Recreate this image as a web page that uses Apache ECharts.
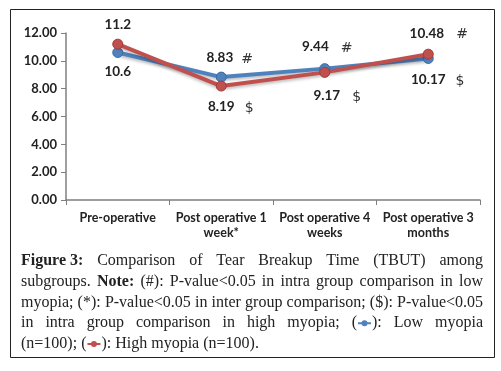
<!DOCTYPE html>
<html>
<head>
<meta charset="utf-8">
<script src="https://cdn.jsdelivr.net/npm/echarts@6/dist/echarts.min.js"></script>
<style>
  html, body { margin: 0; padding: 0; background: #fff; }
  #main { width: 501px; height: 371px; }
</style>
</head>
<body>
<div id="main"></div>
<script>
var categories = ['Pre-operative', 'Post operative 1\nweek*', 'Post operative 4\nweeks', 'Post operative 3\nmonths'];
var lowMyopia = [10.6, 8.83, 9.44, 10.17];
var highMyopia = [11.2, 8.19, 9.17, 10.48];
var lowMarks = ['', '#', '#', '$'];
var highMarks = ['', '$', '$', '#'];
var yTicks = { min: 0, max: 12, interval: 2 };

// caption, one entry per printed line; ** = bold, [blue]/[red] = legend glyph
var captionLines = [
  '**Figure 3:** Comparison of Tear Breakup Time (TBUT) among',
  'subgroups. **Note:** (#): P-value<0.05 in intra group comparison in low',
  'myopia; (*): P-value<0.05 in inter group comparison; ($): P-value<0.05',
  'in intra group comparison in high myopia; ([blue]): Low myopia',
  '(n=100); ([red]): High myopia (n=100).'
];

var BLUE = '#4F81BD';
var RED = '#C0504D';
var labelFont = 'Lato, "DejaVu Sans", sans-serif';
var serif = '"Liberation Serif", "DejaVu Serif", serif';
var CAP_SIZE = 16;

var chart = echarts.init(document.getElementById('main'));

// label placement per point (above / below the marker) and fine offsets
var lowPlace = [['bottom', 7, [0, 0]], ['top', 5, [0, 0]], ['top', 8, [-8, 0]], ['bottom', 7, [0, 0]]];
var highPlace = [['top', 7, [0, 0]], ['bottom', 7, [0, 0]], ['bottom', 9, [2, 0]], ['top', 7, [0, 0]]];
var lowGap = [0, 8, 12, 10];
var highGap = [0, 10, 12, 12];

function buildData(values, marks, place, gaps) {
  return values.map(function(v, i) {
    var m = marks[i];
    var fmt = m ? '{pad|}{v|' + v + '}{gap|}{s|' + m + '}' : '{v|' + v + '}';
    return {
      value: v,
      label: {
        show: true,
        position: place[i][0],
        distance: place[i][1],
        offset: place[i][2],
        formatter: fmt,
        rich: {
          v: { fontFamily: labelFont, fontWeight: 'bold', fontSize: 13.5, color: '#222' },
          gap: { width: gaps[i] },
          pad: { width: gaps[i] + 9 },
          s: { fontFamily: '"DejaVu Sans", sans-serif', fontSize: 14, color: '#333', padding: [3, 0, 0, 0] }
        }
      }
    };
  });
}

// ---- justified caption text built as graphic elements ----
var measureCtx = document.createElement('canvas').getContext('2d');
function textWidth(t, bold) {
  measureCtx.font = (bold ? 'bold ' : '') + CAP_SIZE + 'px ' + serif;
  return measureCtx.measureText(t).width;
}
var GLYPH_W = 15;

function parseToken(tok) {
  var pieces = [];
  var re = /(\*\*[^*]+\*\*|\[blue\]|\[red\])/g;
  var last = 0, m;
  while ((m = re.exec(tok)) !== null) {
    if (m.index > last) pieces.push({ t: tok.slice(last, m.index) });
    if (m[0] === '[blue]') pieces.push({ g: BLUE });
    else if (m[0] === '[red]') pieces.push({ g: RED });
    else pieces.push({ t: m[0].slice(2, -2), b: true });
    last = re.lastIndex;
  }
  if (last < tok.length) pieces.push({ t: tok.slice(last) });
  pieces.forEach(function(p) { p.w = p.g ? GLYPH_W : textWidth(p.t, p.b); });
  return pieces;
}

function captionGraphics() {
  var left = 21, right = 483, top0 = 261, lh = 20.75;
  var out = [];
  captionLines.forEach(function(line, li) {
    // keep bold runs like "**Figure 3:**" intact when splitting
    var tokens = line.replace(/\*\*([^*]+)\*\*/g, function(s, inner) {
      return '**' + inner.replace(/ /g, '\u0001') + '**';
    }).split(' ').map(function(t) { return t.replace(/\u0001/g, ' '); });
    var parsed = tokens.map(parseToken);
    var widths = parsed.map(function(ps) { return ps.reduce(function(a, p) { return a + p.w; }, 0); });
    var total = widths.reduce(function(a, b) { return a + b; }, 0);
    var isLast = li === captionLines.length - 1;
    var space = isLast ? textWidth(' ') : (right - left - total) / (tokens.length - 1);
    var x = left, y = top0 + li * lh;
    parsed.forEach(function(ps, ti) {
      var px = x;
      ps.forEach(function(p) {
        if (p.g) {
          out.push({ type: 'line', shape: { x1: px + 1, y1: y, x2: px + GLYPH_W - 1, y2: y },
            style: { stroke: p.g, lineWidth: 2 } });
          out.push({ type: 'circle', shape: { cx: px + GLYPH_W / 2, cy: y, r: 3 },
            style: { fill: p.g } });
        } else {
          out.push({ type: 'text', x: px, y: y,
            style: { text: p.t, font: (p.b ? 'bold ' : '') + CAP_SIZE + 'px ' + serif,
              fill: '#222', verticalAlign: 'middle' } });
        }
        px += p.w;
      });
      x += widths[ti] + space;
    });
  });
  return out;
}

var option = {
  backgroundColor: '#fff',
  animation: false,
  grid: { left: 66, right: 21, top: 33, bottom: 171 },
  xAxis: {
    type: 'category',
    data: categories,
    boundaryGap: true,
    axisLine: { lineStyle: { color: '#7f7f7f', width: 1.5 } },
    axisTick: { show: true, alignWithLabel: false, length: 5, lineStyle: { color: '#7f7f7f' } },
    axisLabel: {
      interval: 0, margin: 10, lineHeight: 15,
      fontFamily: labelFont, fontWeight: 'bold', fontSize: 12.5, color: '#222'
    }
  },
  yAxis: {
    type: 'value',
    min: yTicks.min, max: yTicks.max, interval: yTicks.interval,
    axisLine: { show: true, lineStyle: { color: '#7f7f7f', width: 1.5 } },
    axisTick: { show: true, length: 5, lineStyle: { color: '#7f7f7f' } },
    splitLine: { show: false },
    axisLabel: {
      margin: 9,
      formatter: function(v) { return v.toFixed(2); },
      fontFamily: labelFont, fontWeight: 'bold', fontSize: 13, color: '#222'
    }
  },
  series: [
    {
      name: 'Low myopia', type: 'line',
      data: buildData(lowMyopia, lowMarks, lowPlace, lowGap),
      symbol: 'circle', symbolSize: 10,
      lineStyle: { color: BLUE, width: 4, shadowColor: 'rgba(0,0,0,0.25)', shadowBlur: 3, shadowOffsetY: 2 },
      itemStyle: { color: BLUE, borderColor: '#3a6aa5', borderWidth: 1 },
      z: 2
    },
    {
      name: 'High myopia', type: 'line',
      data: buildData(highMyopia, highMarks, highPlace, highGap),
      symbol: 'circle', symbolSize: 10,
      lineStyle: { color: RED, width: 4, shadowColor: 'rgba(0,0,0,0.25)', shadowBlur: 3, shadowOffsetY: 2 },
      itemStyle: { color: RED, borderColor: '#a33c39', borderWidth: 1 },
      z: 3
    }
  ],
  graphic: [
    { type: 'rect', shape: { x: 10.5, y: 9.5, width: 484, height: 348 },
      style: { fill: 'none', stroke: '#222', lineWidth: 1 }, silent: true, z: -1 }
  ].concat(captionGraphics())
};

chart.setOption(option);
</script>
</body>
</html>
